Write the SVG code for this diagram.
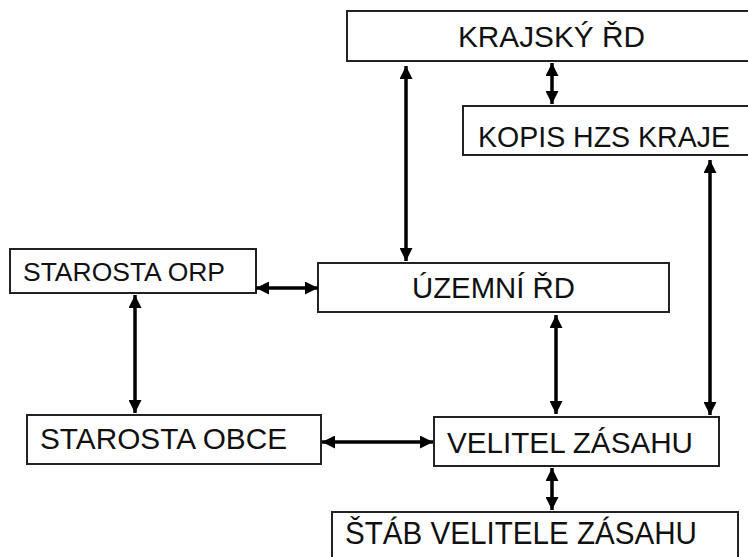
<svg xmlns="http://www.w3.org/2000/svg" width="748" height="557" viewBox="0 0 748 557">
<style>
.box{fill:#fff;stroke:#222;stroke-width:2}
.lbl{font-family:"Liberation Sans",Arial,sans-serif;fill:#111}
.con{stroke:#000;stroke-width:3.5;fill:none;marker-start:url(#ah);marker-end:url(#ah)}
</style>
<defs>
<marker id="ah" markerUnits="userSpaceOnUse" markerWidth="14" markerHeight="13" viewBox="0 0 14 13" refX="13" refY="6.5" orient="auto-start-reverse">
<path d="M0,0 L13,6.5 L0,13 Z" fill="#000"/>
</marker>
</defs>
<rect width="748" height="557" fill="#fff"/>
<g id="krajsky">
<rect class="box" x="347" y="11" width="410" height="50"/>
<text class="lbl" x="458" y="47" font-size="30" textLength="187" lengthAdjust="spacingAndGlyphs">KRAJSKÝ ŘD</text>
</g>
<g id="kopis">
<rect class="box" x="463" y="106" width="300" height="49"/>
<text class="lbl" x="478" y="147" font-size="30" textLength="252" lengthAdjust="spacingAndGlyphs">KOPIS HZS KRAJE</text>
</g>
<g id="orp">
<rect class="box" x="10" y="249" width="246" height="44"/>
<text class="lbl" x="23" y="281" font-size="26" textLength="202" lengthAdjust="spacingAndGlyphs">STAROSTA ORP</text>
</g>
<g id="uzemni">
<rect class="box" x="318" y="263" width="351" height="49"/>
<text class="lbl" x="412" y="298" font-size="29" textLength="163" lengthAdjust="spacingAndGlyphs">ÚZEMNÍ ŘD</text>
</g>
<g id="obce">
<rect class="box" x="27" y="415" width="294" height="49"/>
<text class="lbl" x="40" y="449" font-size="29" textLength="247" lengthAdjust="spacingAndGlyphs">STAROSTA OBCE</text>
</g>
<g id="velitel">
<rect class="box" x="434" y="417" width="285" height="49"/>
<text class="lbl" x="447" y="453" font-size="30" textLength="246" lengthAdjust="spacingAndGlyphs">VELITEL ZÁSAHU</text>
</g>
<g id="stab">
<rect class="box" x="332" y="512" width="406" height="60"/>
<text class="lbl" x="345" y="544" font-size="31" textLength="352" lengthAdjust="spacingAndGlyphs">ŠTÁB VELITELE ZÁSAHU</text>
</g>
<g id="connectors">
<line class="con" x1="552" y1="63" x2="552" y2="104"/>
<line class="con" x1="406" y1="66" x2="406" y2="261"/>
<line class="con" x1="710" y1="160" x2="710" y2="415"/>
<line class="con" x1="256" y1="288" x2="318" y2="288"/>
<line class="con" x1="556" y1="315" x2="556" y2="414"/>
<line class="con" x1="135" y1="295" x2="135" y2="413"/>
<line class="con" x1="322" y1="442" x2="433" y2="442"/>
<line class="con" x1="552" y1="468" x2="552" y2="510"/>
</g>
</svg>
